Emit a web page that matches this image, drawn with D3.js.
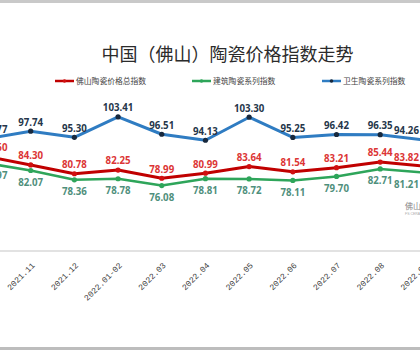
<!DOCTYPE html>
<html>
<head>
<meta charset="utf-8">
<script src="https://cdn.jsdelivr.net/npm/d3@7/dist/d3.min.js"></script>
<style>
  html, body { margin: 0; padding: 0; background: #fff; }
  svg { display: block; }
</style>
</head>
<body>
<script>
// Months shown on the category axis
const months = ["2021.10", "2021.11", "2021.12", "2022.01-02", "2022.03", "2022.04",
                "2022.05", "2022.06", "2022.07", "2022.08", "2022.09"];

// Index values per series
const totalIndex    = [87.60, 84.30, 80.78, 82.25, 78.99, 80.99, 83.64, 81.54, 83.21, 85.44, 83.82];
const buildingIndex = [84.97, 82.07, 78.36, 78.78, 76.08, 78.81, 78.72, 78.11, 79.70, 82.71, 81.21];
const sanitaryIndex = [94.77, 97.74, 95.30, 103.41, 96.51, 94.13, 103.30, 95.25, 96.42, 96.35, 94.26];

const seriesNames = ["佛山陶瓷价格总指数", "建筑陶瓷系列指数", "卫生陶瓷系列指数"];
const titleText = "中国（佛山）陶瓷价格指数走势";

const W = 420, H = 350;
const svg = d3.select("body").append("svg").attr("width", W).attr("height", H);

svg.append("rect").attr("width", W).attr("height", H).attr("fill", "#fff");
// frame strips at top and bottom
svg.append("rect").attr("x", 0).attr("y", 0).attr("width", W).attr("height", 3).attr("fill", "#c9c9c9");
svg.append("rect").attr("x", 0).attr("y", 347).attr("width", W).attr("height", 3).attr("fill", "#bdbdbd");

const x = d3.scalePoint().domain(months).range([-13, 423.9]);
const y = d3.scaleLinear().domain([50, 110]).range([251, 100.4]);

// title
svg.append("text")
  .attr("x", 227.5).attr("y", 61)
  .attr("text-anchor", "middle")
  .attr("font-family", "'Noto Sans CJK SC', sans-serif")
  .attr("font-size", 18)
  .attr("fill", "#2b2b2b")
  .text(titleText);

// x axis
const xAxis = svg.append("g")
  .attr("transform", "translate(0,251)")
  .call(d3.axisBottom(x).tickSize(0).tickPadding(0));
xAxis.select(".domain").remove();
svg.append("line").attr("x1", 0).attr("x2", W).attr("y1", 251).attr("y2", 251)
  .attr("stroke", "#d9d9d9").attr("stroke-width", 1.5);
xAxis.selectAll(".tick text")
  .attr("font-family", "'Liberation Mono', monospace")
  .attr("font-size", 8.3)
  .attr("fill", "#3c3c3c")
  .attr("text-anchor", "end")
  .attr("dy", 0)
  .attr("y", 0)
  .attr("transform", "translate(4,15) rotate(-45)");

const series = [
  { name: seriesNames[0], values: totalIndex,    line: "#c00000", marker: "#d01010", label: "#dc3535", pos: "above", width: 3 },
  { name: seriesNames[1], values: buildingIndex, line: "#2ea55a", marker: "#2ea55a", label: "#4f8f7c", pos: "below", width: 2.5 },
  { name: seriesNames[2], values: sanitaryIndex, line: "#2f7cc2", marker: "#17283d", label: "#25364a", pos: "above", width: 3 }
];

const line = d3.line().x((d, i) => x(months[i])).y(d => y(d));

series.forEach(s => {
  const g = svg.append("g");
  g.append("path")
    .datum(s.values)
    .attr("d", line)
    .attr("fill", "none")
    .attr("stroke", s.line)
    .attr("stroke-width", s.width)
    .attr("stroke-linejoin", "round");
  g.selectAll("circle").data(s.values).join("circle")
    .attr("cx", (d, i) => x(months[i]))
    .attr("cy", d => y(d))
    .attr("r", 2.6)
    .attr("fill", s.marker);
  // data labels, kept inside the chart area horizontally
  const half = 12;
  g.selectAll("text").data(s.values).join("text")
    .attr("x", (d, i) => Math.max(-17 + half, Math.min(418.5 - half, x(months[i]))))
    .attr("y", d => s.pos === "above" ? y(d) - 9 : y(d) + 12)
    .attr("dy", "0.35em")
    .attr("text-anchor", "middle")
    .attr("font-family", "'Noto Sans', sans-serif")
    .attr("font-weight", "bold")
    .attr("font-size", 9.7)
    .attr("fill", s.label)
    .text(d => d.toFixed(2));
});

// legend
const legendX = [55, 192, 322];
const legend = svg.append("g");
series.forEach((s, i) => {
  const lg = legend.append("g").attr("transform", `translate(${legendX[i]},81)`);
  lg.append("line").attr("x1", 0).attr("x2", 19).attr("y1", 0).attr("y2", 0)
    .attr("stroke", s.line).attr("stroke-width", 2.5);
  lg.append("circle").attr("cx", 9.5).attr("cy", 0).attr("r", 1.8).attr("fill", s.marker);
  lg.append("text").attr("x", 21).attr("y", 0).attr("dy", "0.35em")
    .attr("font-family", "'Noto Sans CJK SC', sans-serif")
    .attr("font-size", 7.8)
    .attr("fill", "#444")
    .text(s.name);
});

// source mark
svg.append("text").attr("x", 405).attr("y", 209)
  .attr("font-family", "'Noto Sans CJK SC', sans-serif")
  .attr("font-size", 8).attr("fill", "#888").text("佛山陶瓷");
svg.append("text").attr("x", 405).attr("y", 215)
  .attr("font-family", "'Liberation Sans', sans-serif")
  .attr("font-size", 3.5).attr("fill", "#aaa").text("FS CERAMICS");
</script>
</body>
</html>
